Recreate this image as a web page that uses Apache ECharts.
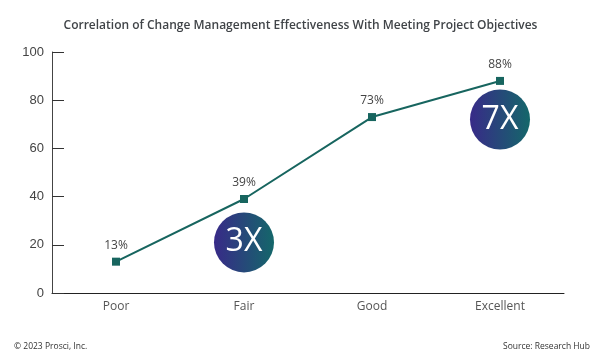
<!DOCTYPE html>
<html><head><meta charset="utf-8">
<script src="https://cdn.jsdelivr.net/npm/echarts@6/dist/echarts.min.js"></script>
<style>html,body{margin:0;padding:0;background:#fff}#c{width:601px;height:361px}</style>
</head><body><div id="c"></div>
<script>
const categories = ['Poor', 'Fair', 'Good', 'Excellent'];
const values = [13, 39, 73, 88];
const yTicks = [0, 20, 40, 60, 80, 100];
const badgeCats = ['Fair', 'Excellent'];
const badgeValues = [21, 72];
const badgeLabels = ['3X', '7X'];
const titleText = 'Correlation of Change Management Effectiveness With Meeting Project Objectives';
const footLeft = '\u00a9 2023 Prosci, Inc.';
const footRight = 'Source: Research Hub';

const chart = echarts.init(document.getElementById('c'), null, {renderer: 'canvas'});
const grad = new echarts.graphic.LinearGradient(0, 0, 1, 0, [
  {offset: 0, color: '#382a88'},
  {offset: 1, color: '#14676a'}
]);
chart.setOption({
  animation: false,
  title: [
    {text: titleText, left: 'center', top: 15,
     textStyle: {fontFamily: 'Open Sans', fontSize: 12, fontWeight: 600, color: '#404448'}},
  ],
  graphic: [
    {type: 'text', left: 14, top: 342, style: {text: footLeft, font: '8.5px "Open Sans"', fill: '#333'}},
    {type: 'text', right: 11, top: 342, style: {text: footRight, font: '8.5px "Open Sans"', fill: '#333'}}
  ],
  grid: {left: 52, right: 37, top: 52, bottom: 68, containLabel: false},
  xAxis: {
    type: 'category', data: categories, boundaryGap: true,
    axisLine: {lineStyle: {color: '#222', width: 1}},
    axisTick: {inside: true, length: 6, lineStyle: {color: '#222'}},
    axisLabel: {fontFamily: 'Open Sans', fontSize: 12, color: '#555', margin: 8}
  },
  yAxis: {
    type: 'value', min: yTicks[0], max: yTicks[yTicks.length - 1], interval: 20,
    axisLine: {show: true, lineStyle: {color: '#444', width: 1}},
    axisTick: {show: true, inside: true, length: 12, lineStyle: {color: '#333'}},
    axisLabel: {fontFamily: 'Liberation Sans', fontSize: 13, color: '#444', margin: 8},
    splitLine: {show: false}
  },
  series: [
    {
      type: 'line', data: values, symbol: 'rect', symbolSize: 8,
      lineStyle: {color: '#17655f', width: 2},
      itemStyle: {color: '#17655f'},
      label: {show: true, position: 'top', distance: 6, formatter: '{c}%',
              fontFamily: 'Open Sans', fontSize: 12, color: '#444'},
      z: 2
    },
    {
      type: 'scatter',
      data: badgeCats.map((c, i) => [c, badgeValues[i]]),
      symbol: 'circle', symbolSize: 60,
      itemStyle: {color: grad, opacity: 1},
      label: {show: true, position: 'inside',
              formatter: p => badgeLabels[p.dataIndex],
              fontFamily: 'Open Sans', fontSize: 32, color: '#fff'},
      z: 3
    }
  ]
});
</script></body></html>
